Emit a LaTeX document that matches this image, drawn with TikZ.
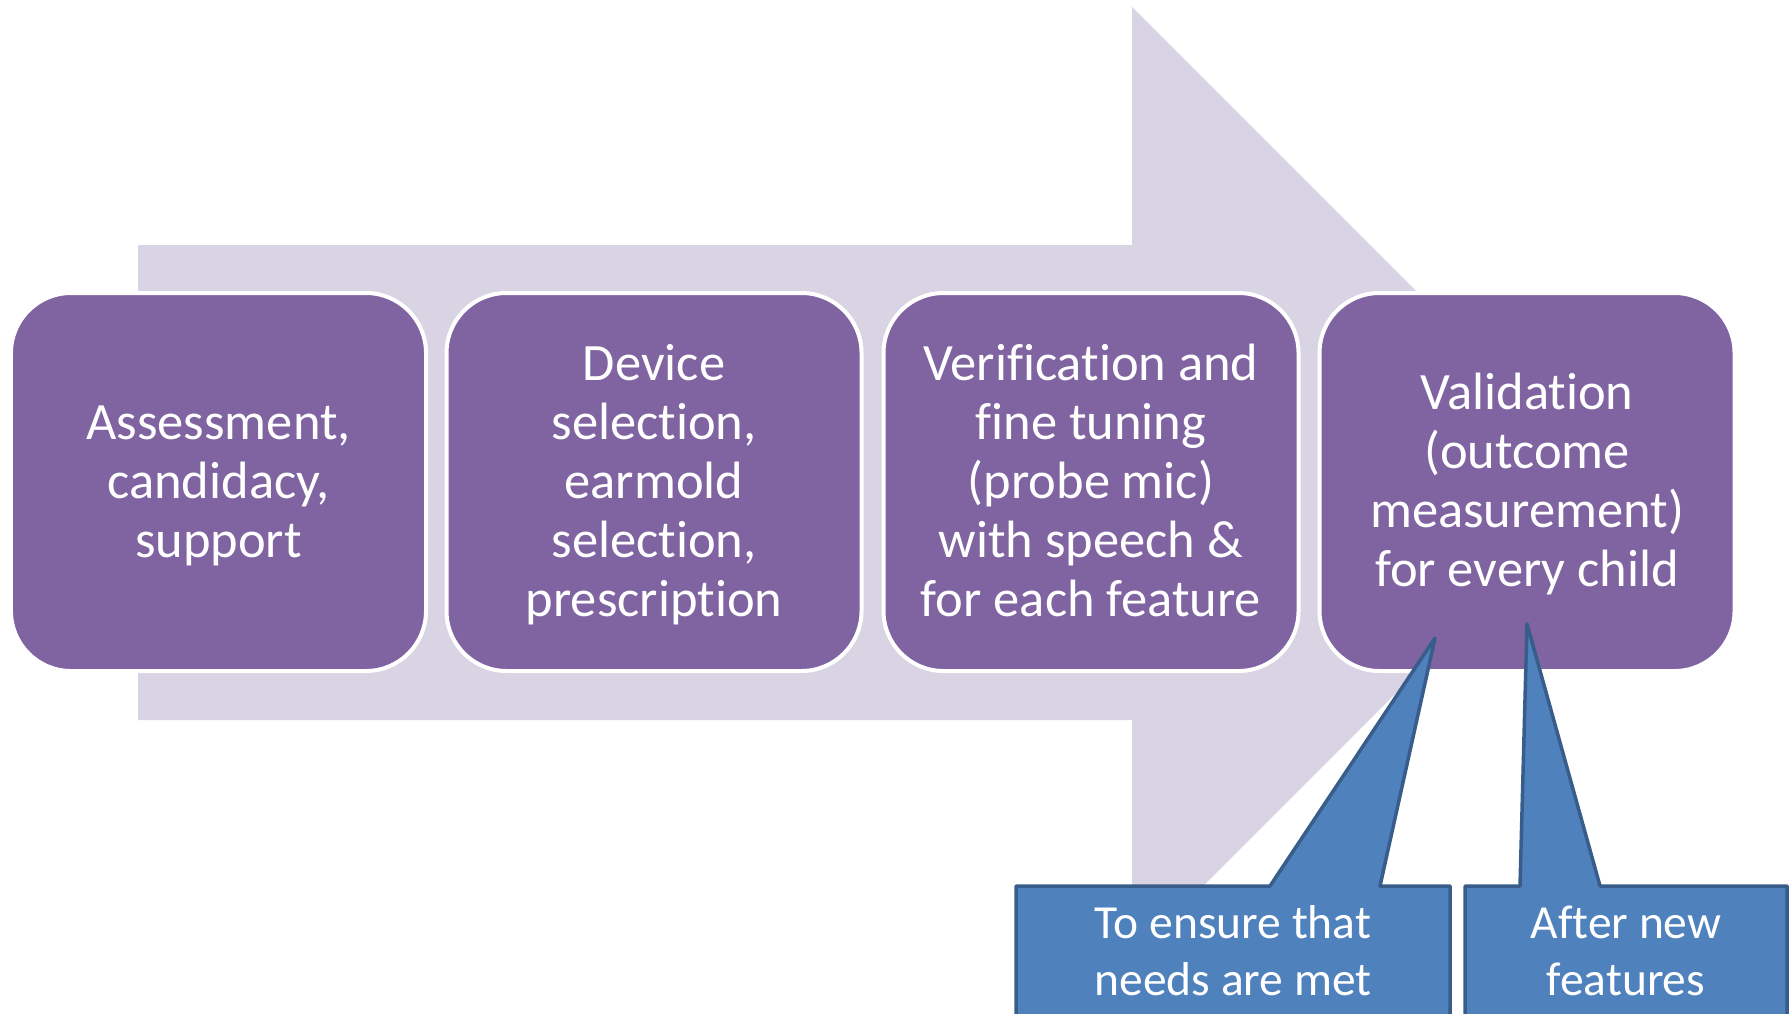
\documentclass[tikz,border=0pt]{standalone}
\usepackage{fontspec}
\setmainfont[Ligatures={NoCommon}]{Carlito}
\definecolor{shaft}{RGB}{216,212,228}
\definecolor{stage}{RGB}{128,100,162}
\definecolor{notefill}{RGB}{79,129,189}
\definecolor{noteline}{RGB}{56,93,138}
% struts that give every line stack the same top and bottom
\newcommand\headstrut{\rule{0pt}{20.1pt}}
\newcommand\footstrut{\rule[-7.1pt]{0pt}{7.1pt}}
\begin{document}
\begin{tikzpicture}[x=0.4pt,y=-0.4pt,
  stagebox/.style={draw=white, line width=1.6pt, fill=stage, rounded corners=24pt,
    minimum width=166pt, minimum height=151.2pt, inner sep=0pt,
    text=white, align=center, font=\fontsize{21}{23.6}\selectfont},
  notetext/.style={text=white, align=center, inner sep=0pt,
    font=\fontsize{19}{22.8}\selectfont},
  notebody/.style={fill=notefill, draw=noteline, line width=1.4pt, line join=round}]
\useasboundingbox (0,0) rectangle (1791,1013);
\clip (0,0) rectangle (1791,1013);

% large background arrow
\fill[shaft] (138,245) -- (1132,245) -- (1132,7) -- (1607,482)
  -- (1132,957) -- (1132,720) -- (138,720) -- cycle;

% process stages
\node[stagebox] (s1) at (218.5,482) {\headstrut Assessment,\\candidacy,\\support\footstrut};
\node[stagebox] (s2) at (654,482) {\headstrut Device\\selection,\\earmold\\selection,\\prescription\footstrut};
\node[stagebox] (s3) at (1091,482) {\headstrut Verification and\\fine tuning\\(probe mic)\\with speech \&\\for each feature\footstrut};
\node[stagebox] (s4) at (1527,482) {\headstrut Validation\\(outcome\\measurement)\\for every child\footstrut};

% callouts pointing at the last stage
\coordinate (tipA) at (1435,638);
\coordinate (tipB) at (1527,624);
\path[notebody] (1016,1040) -- (1016,886) -- (1270,886) -- (tipA) -- (1380,886)
  -- (1450,886) -- (1450,1040) -- cycle;
\path[notebody] (1465,1040) -- (1465,886) -- (1520,886) -- (tipB) -- (1600,886)
  -- (1787,886) -- (1787,1040) -- cycle;
\node[notetext] (na) at (1233,951) {To ensure that\\needs are met};
\node[notetext] (nb) at (1626,951) {After new\\features};
\end{tikzpicture}
\end{document}
